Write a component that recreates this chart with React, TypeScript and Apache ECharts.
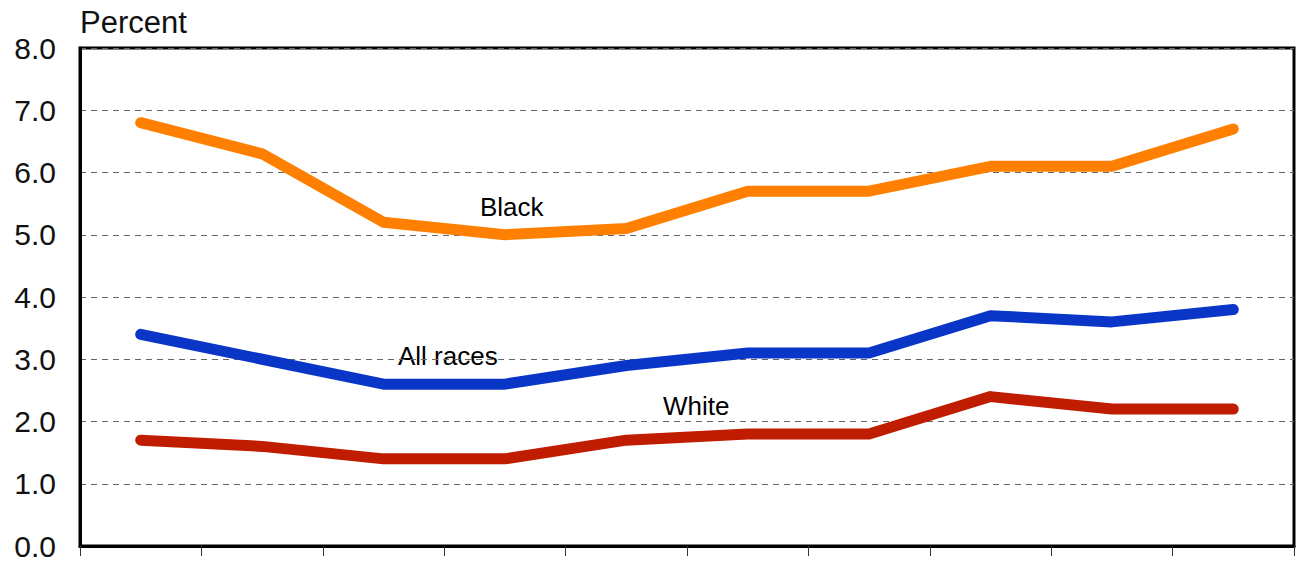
import React, { useEffect, useRef } from "react";
import * as echarts from "echarts";

const categories = ["1", "2", "3", "4", "5", "6", "7", "8", "9", "10"];
const blackValues = [6.8, 6.3, 5.2, 5.0, 5.1, 5.7, 5.7, 6.1, 6.1, 6.7];
const allRacesValues = [3.4, 3.0, 2.6, 2.6, 2.9, 3.1, 3.1, 3.7, 3.6, 3.8];
const whiteValues = [1.7, 1.6, 1.4, 1.4, 1.7, 1.8, 1.8, 2.4, 2.2, 2.2];
const seriesNames = ["Black", "All races", "White"];

export default function App() {
  const ref = useRef<HTMLDivElement>(null);
  useEffect(() => {
    if (!ref.current) return;
    const chart = echarts.init(ref.current, null, { renderer: "svg" });
    const font = "'Liberation Sans', Arial, sans-serif";
    const mk = (name: string, data: number[], color: string) => ({
      name,
      type: "line",
      data,
      symbol: "none",
      lineStyle: { color, width: 11, cap: "round", join: "round" },
      z: 3,
    });
    chart.setOption({
      animation: false,
      backgroundColor: "#ffffff",
      textStyle: { fontFamily: font },
      grid: {
        left: 80,
        right: 4,
        top: 48,
        bottom: 12,
        show: true,
        borderColor: "#000",
        borderWidth: 3,
        backgroundColor: "transparent",
      },
      xAxis: {
        type: "category",
        data: categories,
        boundaryGap: true,
        axisLine: { show: true, lineStyle: { color: "#000", width: 3 } },
        axisTick: { show: true, inside: false, length: 10, lineStyle: { color: "#333", width: 1 } },
        axisLabel: { show: false },
        splitLine: { show: false },
      },
      yAxis: {
        type: "value",
        min: 0,
        max: 8,
        interval: 1,
        name: "Percent",
        nameLocation: "end",
        nameGap: 10,
        nameTextStyle: { color: "#111", fontSize: 31, fontFamily: font, align: "left", padding: [0, 0, 0, 0] },
        axisLine: { show: true, lineStyle: { color: "#000", width: 3 } },
        axisTick: { show: false },
        axisLabel: {
          color: "#111",
          fontSize: 30,
          fontFamily: font,
          margin: 24,
          formatter: (v: number) => v.toFixed(1),
        },
        splitLine: {
          show: true,
          lineStyle: { color: "#666", type: [6, 5], width: 1 },
        },
      },
      series: [
        mk(seriesNames[0], blackValues, "#FF8000"),
        mk(seriesNames[1], allRacesValues, "#0A36C8"),
        mk(seriesNames[2], whiteValues, "#C01C00"),
      ],
      graphic: [
        { type: "text", left: 480, top: 194, style: { text: seriesNames[0], fontSize: 26, fontFamily: font, fill: "#000" } },
        { type: "text", left: 398, top: 343, style: { text: seriesNames[1], fontSize: 26, fontFamily: font, fill: "#000" } },
        { type: "text", left: 663, top: 393, style: { text: seriesNames[2], fontSize: 26, fontFamily: font, fill: "#000" } },
      ],
    });
    return () => chart.dispose();
  }, []);
  return <div ref={ref} style={{ width: 1298, height: 561, position: "absolute", left: 0, top: 0 }} />;
}
